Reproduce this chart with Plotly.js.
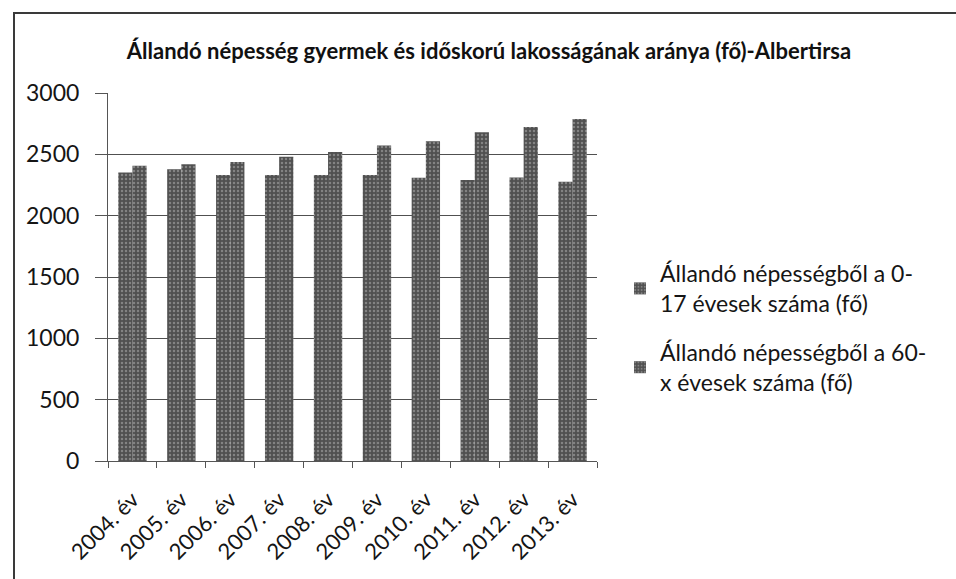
<!DOCTYPE html>
<html>
<head>
<meta charset="utf-8">
<script src="https://cdn.plot.ly/plotly-3.0.1.min.js"></script>
<style>
  html, body { margin: 0; padding: 0; background: #ffffff; overflow: hidden; }
  #chart { width: 956px; height: 579px; }
  #frame { position: absolute; left: 13px; top: 12px; width: 1000px; height: 1000px;
           border: 2px solid #3a3a3a; pointer-events: none; box-sizing: border-box; }
</style>
</head>
<body>
<div id="chart"></div>
<div id="frame"></div>
<script>
const categories = ["2004. év", "2005. év", "2006. év", "2007. év", "2008. év",
                    "2009. év", "2010. év", "2011. év", "2012. év", "2013. év"];
const children0to17 = [2352, 2379, 2331, 2331, 2331, 2331, 2309, 2290, 2312, 2277];
const seniors60plus = [2406, 2419, 2438, 2481, 2519, 2573, 2607, 2680, 2723, 2788];
const seriesNames = ["Állandó népességből a 0-<br>17 évesek száma (fő)",
                     "Állandó népességből a 60-<br>x évesek száma (fő)"];
const yTicks = [0, 500, 1000, 1500, 2000, 2500, 3000];
const titleText = "Állandó népesség gyermek és időskorú lakosságának aránya (fő)-Albertirsa";

const fontFam = "Lato, 'Open Sans', 'DejaVu Sans', sans-serif";

function barTrace(name, values, group) {
  return {
    type: "bar",
    name: name,
    legendgroup: group,
    x: categories,
    y: values,
    marker: {
      color: "#555555",
      line: { width: 0 },
      pattern: { shape: ".", fgcolor: "#838383", bgcolor: "#505050", size: 4, solidity: 0.3 }
    },
    hoverinfo: "x+y"
  };
}

const data = [barTrace(seriesNames[0], children0to17, "g1"),
              barTrace(seriesNames[1], seniors60plus, "g2")];

const plotL = 108, plotR = 597;

const layout = {
  width: 956,
  height: 579,
  paper_bgcolor: "#ffffff",
  plot_bgcolor: "#ffffff",
  margin: { l: plotL, r: 956 - plotR, t: 93, b: 118 },
  barmode: "group",
  bargap: 0.42,
  bargroupgap: 0,
  font: { family: fontFam, color: "#151515" },
  title: {
    text: "<b>" + titleText + "</b>",
    font: { family: fontFam, size: 22, color: "#111111" },
    x: (489 - plotL) / (plotR - plotL), xref: "paper", xanchor: "center",
    y: 1 - 51 / 579, yref: "container", yanchor: "middle"
  },
  xaxis: {
    type: "category",
    tickangle: -45,
    tickfont: { family: fontFam, size: 22, color: "#151515" },
    showline: true, linecolor: "#555555", linewidth: 1,
    ticks: "outside", ticklen: 6, tickcolor: "#555555",
    tickson: "boundaries",
    ticklabelstandoff: 16,
    showgrid: false,
    automargin: false
  },
  yaxis: {
    range: [0, 3000],
    tickvals: yTicks,
    ticktext: yTicks.map(String),
    tickfont: { family: fontFam, size: 23, color: "#151515" },
    showline: true, linecolor: "#555555", linewidth: 1,
    ticks: "outside", ticklen: 12, tickcolor: "#555555",
    ticklabelstandoff: 11,
    showgrid: true, gridcolor: "#505050", gridwidth: 1,
    zeroline: false,
    automargin: false
  },
  legend: {
    x: (620 - plotL) / (plotR - plotL), xanchor: "left",
    y: (461 - 252) / (461 - 93), yanchor: "top",
    font: { family: fontFam, size: 23, color: "#151515" },
    tracegroupgap: 16,
    itemwidth: 30,
    bgcolor: "rgba(0,0,0,0)"
  },
  showlegend: true
};

Plotly.newPlot("chart", data, layout, { displayModeBar: false, staticPlot: true });
</script>
</body>
</html>
